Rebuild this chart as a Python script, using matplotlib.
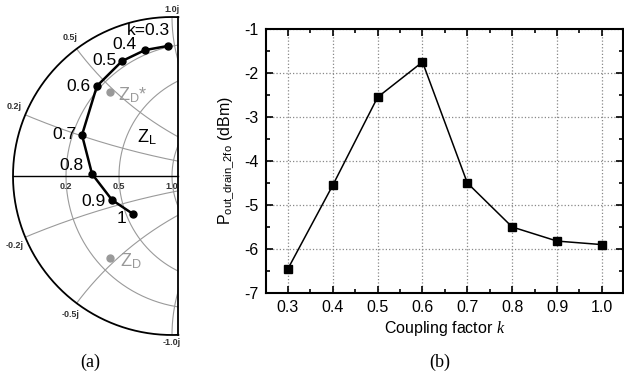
import numpy as np
import matplotlib
matplotlib.use('Agg')
import matplotlib.pyplot as plt
from matplotlib.patches import Polygon
from matplotlib.ticker import MultipleLocator

plt.rcParams['font.family'] = ['Liberation Sans', 'DejaVu Sans']
plt.rcParams['axes.unicode_minus'] = False
plt.rcParams['mathtext.fontset'] = 'custom'
plt.rcParams['mathtext.it'] = 'Liberation Serif:italic'
plt.rcParams['mathtext.rm'] = 'Liberation Sans'

# (b) output power vs coupling factor
k_vals = [0.3, 0.4, 0.5, 0.6, 0.7, 0.8, 0.9, 1.0]
pout = [-6.45, -4.55, -2.55, -1.75, -4.5, -5.5, -5.82, -5.9]

# (a) load trajectory on the Smith chart (reflection coefficient)
k_labels = ['k=0.3', '0.4', '0.5', '0.6', '0.7', '0.8', '0.9', '1']
gamma_re = [-0.025, -0.170, -0.314, -0.472, -0.566, -0.503, -0.377, -0.245]
gamma_im = [0.818, 0.792, 0.723, 0.566, 0.258, 0.013, -0.151, -0.239]
zd_conj = (-0.390, 0.528)
zd = (-0.390, -0.516)

r_circles = [0.2, 0.5, 1.0]
x_arcs = [0.2, 0.5, 1.0]

fig = plt.figure(figsize=(6.24, 3.77), dpi=100)

# ---------- Smith chart (left half) ----------
px = 159.0          # pixels per unit of gamma
cx, cy = 172.0, 176.0
ax1 = fig.add_axes([0, 0, 190 / 624, 1])
ax1.set_xlim((0 - cx) / px, (190 - cx) / px)
ax1.set_ylim((cy - 377) / px, cy / px)
ax1.axis('off')

edge = 0.04
t = np.linspace(0, 2 * np.pi, 721)
a0 = np.arccos(edge)
ta = np.linspace(a0, 2 * np.pi - a0, 400)
region = Polygon(np.column_stack([np.cos(ta), np.sin(ta)]), closed=True,
                 transform=ax1.transData, facecolor='none', edgecolor='none')
ax1.add_patch(region)

gc = '#9a9a9a'
lc = '#333333'
for r in r_circles:
    c, rad = r / (1 + r), 1 / (1 + r)
    ln, = ax1.plot(c + rad * np.cos(t), rad * np.sin(t), color=gc, lw=0.8)
    ln.set_clip_path(region)
    ax1.text((r - 1) / (r + 1), -0.035, '%.1f' % r, fontsize=6.5,
             ha='center', va='top', fontweight='bold', color=lc)
for x in x_arcs:
    for s in (1, -1):
        xv = s * x
        ln, = ax1.plot(1 + abs(1 / xv) * np.cos(t), 1 / xv + abs(1 / xv) * np.sin(t),
                       color=gc, lw=0.8)
        ln.set_clip_path(region)

# reactance labels
ax1.text(0.0, 1.02, '1.0j', fontsize=6.5, ha='center', va='bottom', fontweight='bold', color=lc)
ax1.text(0.0, -1.02, '-1.0j', fontsize=6.5, ha='center', va='top', fontweight='bold', color=lc)
ax1.text(-0.64, 0.84, '0.5j', fontsize=6.5, ha='center', va='bottom', fontweight='bold', color=lc)
ax1.text(-0.64, -0.84, '-0.5j', fontsize=6.5, ha='center', va='top', fontweight='bold', color=lc)
ax1.text(-0.99, 0.41, '0.2j', fontsize=6.5, ha='center', va='bottom', fontweight='bold', color=lc)
ax1.text(-0.99, -0.41, '-0.2j', fontsize=6.5, ha='center', va='top', fontweight='bold', color=lc)

# outer boundary
ax1.plot(np.cos(ta), np.sin(ta), color='black', lw=1.3)
ax1.plot([edge, edge], [-np.sin(a0), np.sin(a0)], color='black', lw=1.3)
ax1.plot([-1, edge], [0, 0], color='black', lw=1.0)

# trajectory
ax1.plot(gamma_re, gamma_im, '-o', color='black', lw=1.8, ms=5)
offs = [(-20, 15), (-21, 6), (-18, 1), (-19, 0), (-18, 0), (-21, 8), (-19, -1), (-12, -4)]
for lab, gx, gy, (dx, dy) in zip(k_labels, gamma_re, gamma_im, offs):
    ax1.annotate(lab, (gx, gy), xytext=(dx * 0.72, dy * 0.72), textcoords='offset points',
                 ha='center', va='center', fontsize=12.5)

ax1.plot(*zd_conj, 'o', color='#999999', ms=5)
ax1.annotate(r'Z$_\mathregular{D}$*', zd_conj, xytext=(6, -2), textcoords='offset points',
             ha='left', va='center', fontsize=13, color='#999999')
ax1.plot(*zd, 'o', color='#999999', ms=5)
ax1.annotate(r'Z$_\mathregular{D}$', zd, xytext=(7, -2), textcoords='offset points',
             ha='left', va='center', fontsize=13, color='#999999')
ax1.text((147 - cx) / px, (cy - 137) / px, r'Z$_\mathregular{L}$', ha='center', va='center',
         fontsize=13, color='black')

# ---------- output power plot ----------
ax2 = fig.add_axes([265.5 / 624, (377 - 293) / 377, (623 - 265.5) / 624, (293 - 29) / 377])
ax2.plot(k_vals, pout, '-s', color='black', lw=1.1, ms=6)
ax2.set_xlim(0.25, 1.047)
ax2.set_ylim(-7, -1)
ax2.xaxis.set_minor_locator(MultipleLocator(0.05))
ax2.yaxis.set_major_locator(MultipleLocator(1))
ax2.yaxis.set_minor_locator(MultipleLocator(0.5))
ax2.set_xticks(k_vals)
ax2.set_xticklabels(['%.1f' % v for v in k_vals])
ax2.grid(True, which='major', linestyle=':', color='#888888', lw=0.9)
ax2.tick_params(which='both', direction='in', top=True, right=True, labelsize=11.5, width=1.2)
ax2.tick_params(which='major', length=5, pad=5)
ax2.tick_params(which='minor', length=3)
for sp in ax2.spines.values():
    sp.set_linewidth(1.5)
ax2.set_ylabel(r'P$_\mathregular{out\_drain\_2fo}$ (dBm)', fontsize=11.5, labelpad=6)
ax2.set_xlabel(r'Coupling factor $k$', fontsize=11.5, labelpad=3)

fig.text(90 / 624, 1 - 362 / 377, '(a)', family='Liberation Serif', fontsize=13, ha='center', va='center')
fig.text(440 / 624, 1 - 362 / 377, '(b)', family='Liberation Serif', fontsize=13, ha='center', va='center')

fig.savefig('out.png', dpi=100)
